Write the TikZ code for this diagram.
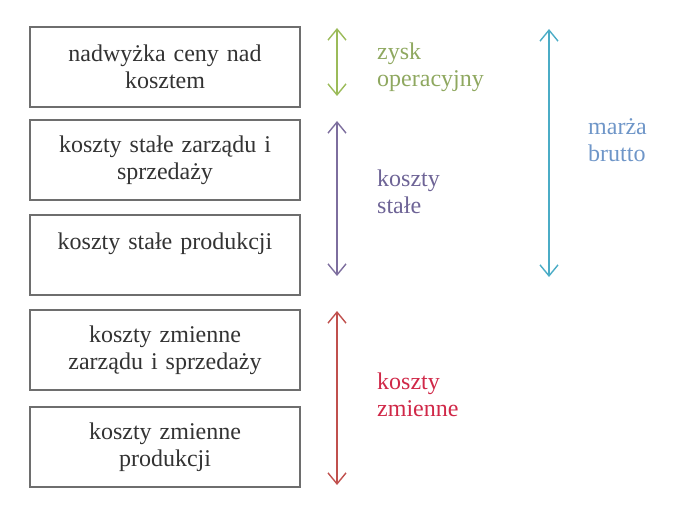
\documentclass[tikz,border=0pt]{standalone}
\usepackage{fontspec}
\setmainfont{Liberation Serif}
\usepackage{xcolor}
\usepackage{tikz}
\usetikzlibrary{arrows.meta,positioning}
\definecolor{boxline}{HTML}{6E6E6E}
\definecolor{boxtext}{HTML}{333333}
\definecolor{zyskgreen}{HTML}{9BBB59}
\definecolor{zysktext}{HTML}{8FA860}
\definecolor{stalepurple}{HTML}{7D6E9E}
\definecolor{staletext}{HTML}{6E6496}
\definecolor{zmienred}{HTML}{C0504D}
\definecolor{zmientext}{HTML}{D02848}
\definecolor{marzaaqua}{HTML}{4BACC6}
\definecolor{marzatext}{HTML}{6F96C8}

\begin{document}
\begin{tikzpicture}[
  x=1pt, y=-1pt,
  costbox/.style={draw=boxline, line width=1.4pt, fill=white, minimum width=270pt, minimum height=80pt, text width=262pt, align=center, text=boxtext, font=\fontsize{24}{27}\selectfont, inner sep=0pt, outer sep=0pt},
  lbl/.style={anchor=west, align=left, inner sep=0pt, font=\fontsize{24}{27}\selectfont},
  span/.style={{Straight Barb[length=11pt,width=18pt]}-{Straight Barb[length=11pt,width=18pt]}, line width=1.4pt},
]
  \useasboundingbox (0,0) rectangle (692,518);

  \node[costbox] (nadwyzka) at (165,67) {nadwyżka ceny nad\\kosztem};
  \node[costbox, below=13pt of nadwyzka] (stzarz) {koszty stałe zarządu i\\sprzedaży};
  \node[costbox, below=15pt of stzarz] (stprod) {koszty stałe produkcji\\\mbox{}};
  \node[costbox, below=15pt of stprod] (zmzarz) {koszty zmienne\\zarządu i sprzedaży};
  \node[costbox, below=17pt of zmzarz] (zmprod) {koszty zmienne\\produkcji};

  \coordinate (zyskT) at (337,28);
  \coordinate (zyskB) at (337,96);
  \coordinate (staleT) at (337,121);
  \coordinate (staleB) at (337,276);
  \coordinate (zmienT) at (337,311);
  \coordinate (zmienB) at (337,485);
  \coordinate (marzaT) at (549,29);
  \coordinate (marzaB) at (549,277);

  \draw[span, color=zyskgreen] (zyskT) -- (zyskB);
  \draw[span, color=stalepurple] (staleT) -- (staleB);
  \draw[span, color=zmienred] (zmienT) -- (zmienB);
  \draw[span, color=marzaaqua] (marzaT) -- (marzaB);

  \node[lbl, text=zysktext] (zysk) at (377,67) {zysk\\operacyjny};
  \node[lbl, text=staletext] (stale) at (377,192) {koszty\\stałe};
  \node[lbl, text=marzatext] (marza) at (588,140) {marża\\brutto};
  \node[lbl, text=zmientext] (zmienne) at (377,395) {koszty\\zmienne};
\end{tikzpicture}
\end{document}
